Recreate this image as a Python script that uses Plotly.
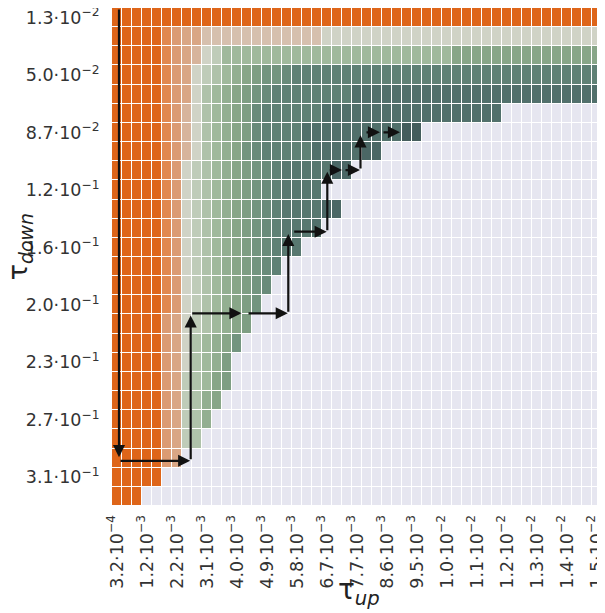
import plotly.graph_objects as go

N = None

# ---- tick labels ----
x_tick_pos = [0, 3, 6, 9, 12, 15, 18, 21, 24, 27, 30, 33, 36, 39, 42, 45, 48]
x_tick_mant = ["3.2", "1.2", "2.2", "3.1", "4.0", "4.9", "5.8", "6.7", "7.7", "8.6",
               "9.5", "1.0", "1.1", "1.2", "1.3", "1.4", "1.5"]
x_tick_exp = ["4", "3", "3", "3", "3", "3", "3", "3", "3", "3", "3", "2", "2", "2", "2", "2", "2"]

y_tick_pos = [0, 3, 6, 9, 12, 15, 18, 21, 24]
y_tick_mant = ["1.3", "5.0", "8.7", "1.2", "1.6", "2.0", "2.3", "2.7", "3.1"]
y_tick_exp = ["2", "2", "2", "1", "1", "1", "1", "1", "1"]

# ---- cell levels (0 = orange ... 20 = dark slate, None = empty) ----
row_00 = [0] * 50
row_01 = [0] * 5 + [2, 3, 4, 4] + [6] * 12 + [7] * 29
row_02 = [0] * 5 + [2, 3, 4, 5, 7, 8, 10] + [10] * 22 + [12] * 16
row_03 = [0] * 5 + [2, 3, 4, 7, 8, 9, 10, 11, 12, 13, 14, 14, 15] + [16] * 32
row_04 = [0] * 5 + [2, 3, 4, 7, 9, 10, 11, 12, 13, 14, 15, 16] + [16] * 7 + [18] * 26
row_05 = [0] * 5 + [2, 3, 5, 7, 9, 10, 11, 12, 13, 15, 16] + [16] * 5 + [18] * 18 + [N] * 11
row_06 = [0] * 5 + [2, 3, 5, 7, 9, 10, 11, 12, 13, 15, 16] + [16] * 3 + [18] * 10 + [20] * 2 + [N] * 19
row_07 = [0] * 5 + [2, 3, 5, 7, 9, 10, 11, 12, 14, 15, 16] + [16] * 4 + [18] * 5 + [19] * 2 + [N] * 23
row_08 = [0] * 5 + [2, 3, 7, 8, 9, 10, 11, 12, 13, 14, 15, 16] + [17] * 5 + [19] * 2 + [N] * 26
row_09 = [0] * 5 + [2, 3, 7, 8, 9, 10, 11, 12, 13, 14, 15, 16] + [17] * 4 + [N] * 29
row_10 = [0] * 5 + [2, 3, 7, 8, 9, 10, 11, 12, 13, 14, 15, 16] + [17] * 4 + [19] * 2 + [N] * 27
row_11 = [0] * 5 + [2, 3, 7, 8, 9, 10, 11, 12, 13, 14, 15, 16] + [17, 17, 17, 18] + [N] * 29
row_12 = [0] * 5 + [2, 3, 7, 8, 9, 10, 11, 12, 13, 14, 15, 16] + [17, 17] + [N] * 31
row_13 = [0] * 5 + [2, 3, 7, 8, 9, 10, 11, 12, 13, 14, 15, 16] + [N] * 33
row_14 = [0] * 5 + [2, 3, 7, 8, 9, 10, 11, 12, 13, 14, 15] + [N] * 34
row_15 = [0] * 5 + [2, 3, 7, 8, 9, 10, 11, 12, 13, 14] + [N] * 35
row_16 = [0] * 5 + [3, 4, 7, 8, 9, 10, 11, 12, 13] + [N] * 36
row_17 = [0] * 5 + [3, 4, 7, 9, 10, 11, 12, 14] + [N] * 37
row_18 = [0] * 5 + [3, 4, 7, 9, 10, 11, 13] + [N] * 38
row_19 = [0] * 5 + [3, 4, 8, 9, 10, 12, 13] + [N] * 38
row_20 = [0] * 5 + [3, 4, 8, 9, 11, 12] + [N] * 39
row_21 = [0] * 5 + [3, 4, 8, 9, 11] + [N] * 40
row_22 = [0] * 5 + [3, 4, 8, 9] + [N] * 41
row_23 = [0] * 5 + [3, 4] + [N] * 43
row_24 = [0] * 5 + [N] * 45
row_25 = [0] * 3 + [N] * 47

rows = [row_00, row_01, row_02, row_03, row_04, row_05, row_06, row_07, row_08,
        row_09, row_10, row_11, row_12, row_13, row_14, row_15, row_16, row_17,
        row_18, row_19, row_20, row_21, row_22, row_23, row_24, row_25]

# ---- path arrows (column / row units): x0, y0, x1, y1 (head at x1, y1) ----
arrow_x0 = [0.20, 0.20, 7.37, 7.37, 13.00, 17.13, 17.57, 21.03, 21.13, 22.70, 24.35, 24.80, 26.50]
arrow_y0 = [-0.5, 23.14, 23.14, 15.44, 15.44, 15.44, 11.18, 11.18, 7.96, 7.96, 7.96, 5.99, 5.99]
arrow_x1 = [0.20, 7.32, 7.37, 12.45, 17.08, 17.13, 20.97, 21.03, 22.50, 24.30, 24.35, 26.30, 28.30]
arrow_y1 = [22.95, 23.14, 15.55, 15.44, 15.44, 11.30, 11.18, 8.05, 7.96, 7.96, 6.15, 5.99, 5.99]

level_colors = [
    (0, "#DE6519"), (1, "#DF7430"), (2, "#E1884F"), (3, "#DB9B73"), (4, "#D9A685"),
    (5, "#D7B49C"), (6, "#D6C0AE"), (7, "#D0D3C6"), (8, "#BFCCB9"), (9, "#AFC2AA"),
    (10, "#A0B99C"), (11, "#93AF91"), (12, "#88A688"), (13, "#7E9E83"), (14, "#73957F"),
    (15, "#698B7A"), (16, "#5F8175"), (17, "#587870"), (18, "#51706B"), (19, "#4B6765"),
    (20, "#445D5C"),
]
colorscale = [[lv / 20, c] for lv, c in level_colors]

empty = [[1 if v is None else None for v in r] for r in rows]

fig = go.Figure()
fig.add_trace(go.Heatmap(
    z=empty, colorscale=[[0, "#E6E6F0"], [1, "#E6E6F0"]], showscale=False,
    xgap=1, ygap=1, hoverinfo="skip",
))
fig.add_trace(go.Heatmap(
    z=rows, colorscale=colorscale, zmin=0, zmax=20, showscale=False,
    xgap=1, ygap=1,
))

for x0, y0, x1, y1 in zip(arrow_x0, arrow_y0, arrow_x1, arrow_y1):
    fig.add_annotation(
        x=x1, y=y1, ax=x0, ay=y0, xref="x", yref="y", axref="x", ayref="y",
        text="", showarrow=True, arrowhead=2, arrowsize=1.1, arrowwidth=2.2,
        arrowcolor="#111111", standoff=0, startstandoff=0,
    )

# axis titles placed as annotations (paper coordinates)
fig.add_annotation(
    text="τ<sub><i>up</i></sub>", xref="paper", yref="paper", x=0.5, y=-0.172,
    xanchor="center", yanchor="middle", showarrow=False,
    font=dict(size=28, color="#222222", family="DejaVu Sans"),
)
fig.add_annotation(
    text="τ<sub><i>down</i></sub>", xref="paper", yref="paper", x=-0.188, y=0.52,
    xanchor="center", yanchor="middle", textangle=-90, showarrow=False,
    font=dict(size=27, color="#222222", family="DejaVu Sans"),
)

# The page adds an 8px body margin, so the figure is sized to fit the window.
fig.update_layout(
    width=597, height=605,
    margin=dict(l=104, r=0, t=0, b=107),
    paper_bgcolor="white", plot_bgcolor="white",
    font=dict(family="DejaVu Sans", color="#333333", size=17.5),
)
fig.update_xaxes(
    automargin=False,
    range=[-0.5, -0.5 + 493 / 10.0],
    tickmode="array", tickvals=x_tick_pos,
    ticktext=[f"{m}·10<sup>−{e}</sup>" for m, e in zip(x_tick_mant, x_tick_exp)],
    tickangle=-90, ticks="outside", ticklen=1, tickcolor="rgba(0,0,0,0)",
    ticklabeloverflow="allow",
    showgrid=False, zeroline=False, showline=False,
)
fig.update_yaxes(
    automargin=False,
    range=[25.5, -0.5],
    tickmode="array", tickvals=y_tick_pos,
    ticktext=[f"{m}·10<sup>−{e}</sup>" for m, e in zip(y_tick_mant, y_tick_exp)],
    ticks="outside", ticklen=8, tickcolor="rgba(0,0,0,0)",
    ticklabeloverflow="allow",
    showgrid=False, zeroline=False, showline=False,
)

fig.write_html("out.html")
